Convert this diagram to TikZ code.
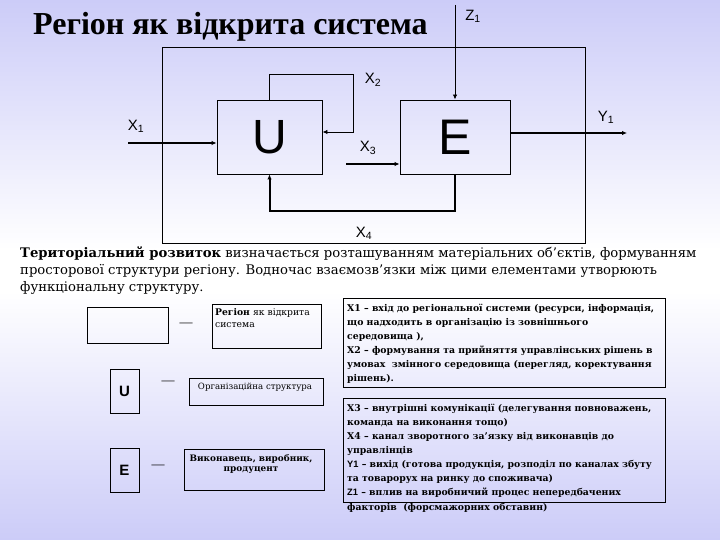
\documentclass[tikz,border=0pt]{standalone}
\usepackage{fontspec}
\setmainfont{Liberation Serif}
\setsansfont{Liberation Sans}
\newfontfamily\dvs{DejaVu Serif}
\usetikzlibrary{arrows.meta}
\definecolor{lav}{RGB}{204,204,248}
\begin{document}
\begin{tikzpicture}[x=1pt,y=-1pt,
  thinln/.style={line width=0.9pt},
  thickln/.style={line width=2pt},
  arr/.style={-{Latex[length=5pt,width=4.5pt]}},
  box/.style={draw, line width=0.9pt, inner sep=0pt},
  lbl/.style={font=\sffamily\fontsize{15}{15}\selectfont, inner sep=0pt},
  para/.style={font=\dvs\fontsize{13.2}{13.2}\selectfont, inner sep=0pt, anchor=base west},
  note/.style={font=\dvs\bfseries\fontsize{9.3}{9.3}\selectfont, inner sep=0pt, anchor=base west},
  leg/.style={font=\dvs\fontsize{8.6}{11}\selectfont, inner sep=0pt},
  dashmark/.style={font=\fontsize{13}{13}\selectfont, inner sep=0pt}
]
\useasboundingbox (0,0) rectangle (720,540);
% background
\shade[top color=lav, bottom color=white] (0,0) rectangle (720,250);
\fill[white] (0,249) rectangle (720,292);
\shade[top color=white, bottom color=lav] (0,291) rectangle (720,540);

% title
\node[font=\bfseries\fontsize{32}{32}\selectfont, inner sep=0pt, anchor=base west] (title) at (33,35) {Регіон як відкрита система};

% diagram
\node[box, minimum width=423pt, minimum height=196pt] (reg) at (373.5,145) {};
\node[box, minimum width=105pt, minimum height=74pt, font=\sffamily\fontsize{48}{48}\selectfont] (U) at (269.5,137) {U};
\node[box, minimum width=110pt, minimum height=74pt, font=\sffamily\fontsize{50}{50}\selectfont] (E) at (455,137) {E};

\coordinate (x1s) at (128,143);
\coordinate (x2c) at (353,74);
\coordinate (x3s) at (346,164);
\coordinate (x4c) at (455,211);
\coordinate (y1e) at (627,133);
\coordinate (z1s) at (455,5);

\draw[thickln, arr] (x1s) -- (x1s -| U.west);
\draw[thinln, arr] (U.north) |- (x2c) |- ([yshift=5pt]U.east);
\draw[thickln, arr] (x3s) -- (x3s -| E.west);
\draw[thickln, arr] (E.south) -- (x4c) -| (U.south);
\draw[thickln, arr] (E.east |- y1e) -- (y1e);
\draw[thinln, arr] (z1s) -- (E.north);

\node[lbl] (lx1) at (136,126) {X\textsubscript{1}};
\node[lbl] (lx2) at (373,80) {X\textsubscript{2}};
\node[lbl] (lx3) at (368,148) {X\textsubscript{3}};
\node[lbl] (lx4) at (364,233) {X\textsubscript{4}};
\node[lbl] (ly1) at (606,117) {Y\textsubscript{1}};
\node[lbl] (lz1) at (473,16) {Z\textsubscript{1}};

% paragraph
\node[para] (p1) at (20,257) {\textbf{Територіальний розвиток} визначається розташуванням матеріальних об’єктів, формуванням};
\node[para] (p2) at (20,274) {просторової структури регіону. Водночас взаємозв’язки між цими елементами утворюють};
\node[para] (p3) at (20,291) {функціональну структуру.};

% legend
\node[box, minimum width=81pt, minimum height=36pt] (l0) at (127.5,325) {};
\node[dashmark] (d0) at (186,325) {—};
\node[box, minimum width=109pt, minimum height=44pt] (t0) at (266.5,326) {};
\node[leg, font=\dvs\fontsize{9.2}{12}\selectfont, anchor=north west, text width=100pt, align=left] (t0t) at (215,308) {\textbf{Регіон} як відкрита система};

\node[box, minimum width=29pt, minimum height=44pt, font=\sffamily\bfseries\fontsize{15}{15}\selectfont] (lU) at (124.5,391) {U};
\node[dashmark] (d1) at (168,383) {—};
\node[box, minimum width=134pt, minimum height=27pt] (t1) at (256,391.5) {};
\node[leg, anchor=base] (t1t) at (255,389) {Організаційна структура};

\node[box, minimum width=29pt, minimum height=44pt, font=\sffamily\bfseries\fontsize{15}{15}\selectfont] (lE) at (124.5,470) {E};
\node[dashmark] (d2) at (158,467) {—};
\node[box, minimum width=140pt, minimum height=41pt] (t2) at (254,469.5) {};
\node[leg, font=\dvs\bfseries\fontsize{8.9}{10.5}\selectfont, anchor=north, align=center] (t2t) at (251,454) {Виконавець, виробник,\\продуцент};

% notes
\node[box, minimum width=322pt, minimum height=89pt] (n1) at (504,342.5) {};
\node[note] (n1a) at (347,311) {X1 – вхід до регіональної системи (ресурси, інформація,};
\node[note] (n1b) at (347,325) {що надходить в організацію із зовнішнього};
\node[note] (n1c) at (347,339) {середовища ),};
\node[note] (n1d) at (347,353) {X2 – формування та прийняття управлінських рішень в};
\node[note] (n1e) at (347,367) {умовах \ змінного середовища (перегляд, коректування};
\node[note] (n1f) at (347,381) {рішень).};

\node[box, minimum width=322pt, minimum height=104pt] (n2) at (504,450) {};
\node[note] (n2a) at (347,411) {X3 – внутрішні комунікації (делегування повноважень,};
\node[note] (n2b) at (347,425) {команда на виконання тощо)};
\node[note] (n2c) at (347,439) {X4 – канал зворотного за’язку від виконавців до};
\node[note] (n2d) at (347,453) {управлінців};
\node[note] (n2e) at (347,467) {{\sffamily Y1} – вихід (готова продукція, розподіл по каналах збуту};
\node[note] (n2f) at (347,481) {та товарорух на ринку до споживача)};
\node[note] (n2g) at (347,495) {{\sffamily Z1} – вплив на виробничий процес непередбачених};
\node[note] (n2h) at (347,510) {факторів \ (форсмажорних обставин)};
\end{tikzpicture}
\end{document}
